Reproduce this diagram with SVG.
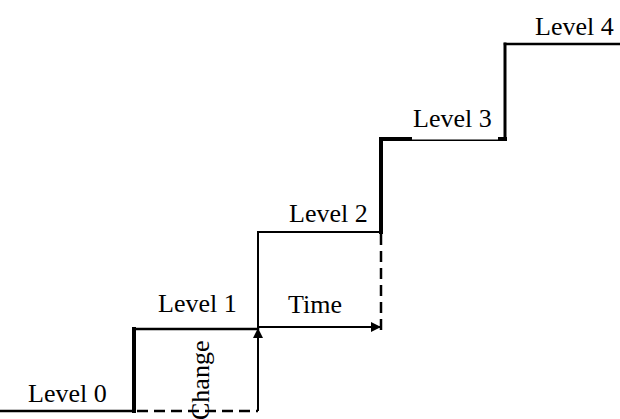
<svg xmlns="http://www.w3.org/2000/svg" width="620" height="419" viewBox="0 0 620 419">
  <style>
    .step { fill: none; stroke: #000; stroke-linecap: square; }
    .dash { fill: none; stroke: #000; stroke-width: 2.5; stroke-dasharray: 11 6; }
    .arrow { fill: none; stroke: #000; stroke-width: 2; }
    .label { font-family: "Liberation Serif", "Times New Roman", serif; font-size: 26px; fill: #000; }
  </style>
  <defs>
    <marker id="head" viewBox="0 0 10 10" refX="9" refY="5" markerWidth="5" markerHeight="5" orient="auto" markerUnits="strokeWidth">
      <path d="M0,0 L10,5 L0,10 z" fill="#000"/>
    </marker>
  </defs>
  <rect width="620" height="419" fill="#fff"/>

  <g id="connectors">
    <!-- staircase -->
    <line class="step" x1="0" y1="411" x2="134" y2="411" stroke-width="2.5"/>
    <line class="step" x1="134" y1="411" x2="134" y2="329" stroke-width="4"/>
    <line class="step" x1="134" y1="329" x2="258" y2="329" stroke-width="2.5"/>
    <line class="step" x1="258" y1="329" x2="258" y2="232" stroke-width="2"/>
    <line class="step" x1="258" y1="232" x2="381" y2="232" stroke-width="2"/>
    <line class="step" x1="381" y1="232" x2="381" y2="139" stroke-width="4"/>
    <line class="step" x1="381" y1="139" x2="505" y2="139" stroke-width="4"/>
    <line class="step" x1="505" y1="139" x2="505" y2="44" stroke-width="3"/>
    <line class="step" x1="505" y1="44" x2="620" y2="44" stroke-width="2.5"/>
    <!-- dashed projections -->
    <line class="dash" x1="137" y1="411" x2="258" y2="411"/>
    <line class="dash" x1="381" y1="234" x2="381" y2="331" stroke-width="3"/>
    <!-- change and time arrows -->
    <line class="arrow" x1="258" y1="411" x2="258" y2="329" marker-end="url(#head)"/>
    <line class="arrow" x1="258" y1="327" x2="380" y2="327" marker-end="url(#head)"/>
  </g>

  <g id="level0"><text class="label" x="28" y="402">Level 0</text></g>
  <g id="level1"><text class="label" x="158" y="312">Level 1</text></g>
  <g id="level2"><text class="label" x="289" y="222">Level 2</text></g>
  <g id="level3">
    <rect x="412" y="104" width="86" height="35.5" fill="#fff"/>
    <text class="label" x="413" y="127">Level 3</text>
  </g>
  <g id="level4"><text class="label" x="535" y="35">Level 4</text></g>
  <g id="time"><text class="label" x="288" y="313">Time</text></g>
  <g id="change"><text class="label" transform="translate(209,420) rotate(-90)">Change</text></g>
</svg>
